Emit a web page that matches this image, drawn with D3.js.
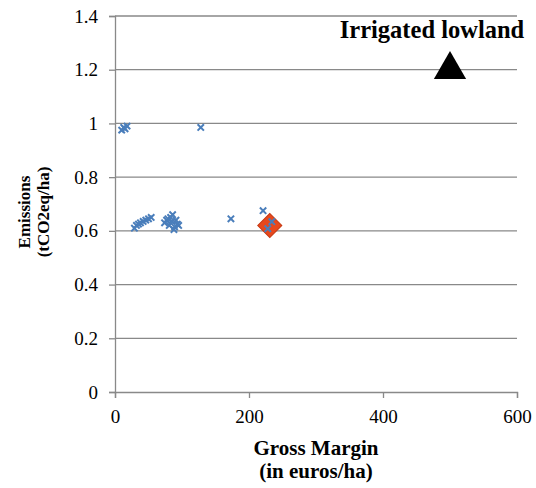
<!DOCTYPE html>
<html>
<head>
<meta charset="utf-8">
<script src="https://cdn.jsdelivr.net/npm/d3@7"></script>
<style>
  body { margin: 0; background: #fff; }
  svg { display: block; }
  .tick text { font-family: "Liberation Serif", "Times New Roman", serif; }
</style>
</head>
<body>
<div id="chart"></div>
<script>
// farm observations (gross margin, emissions)
const farmX = [10, 13, 15, 18, 128,
  29, 32, 35, 38, 42, 46, 50, 54,
  74, 77, 79, 81, 83, 85, 86, 88, 89, 91, 93, 95,
  173, 221, 228, 234];
const farmY = [0.975, 0.985, 0.98, 0.99, 0.985,
  0.61, 0.62, 0.625, 0.63, 0.635, 0.64, 0.645, 0.65,
  0.63, 0.64, 0.645, 0.62, 0.65, 0.635, 0.66, 0.605, 0.615, 0.64, 0.625, 0.62,
  0.645, 0.675, 0.608, 0.634];

const meanX = [231];
const meanY = [0.62];

const lowlandX = [500];
const lowlandY = [1.2];
const lowlandLabel = "Irrigated lowland";

const xTicks = [0, 200, 400, 600];
const yTicks = [0, 0.2, 0.4, 0.6, 0.8, 1, 1.2, 1.4];

const width = 536,
  height = 488,
  marginTop = 16,
  marginRight = 19,
  marginBottom = 96,
  marginLeft = 115,
  font = "'Liberation Serif', 'Times New Roman', serif",
  gridColor = "#898989",
  crossColor = "#4a7ebb";

const xScale = d3.scaleLinear([0, 600], [marginLeft, width - marginRight]);
const yScale = d3.scaleLinear([0, 1.4], [height - marginBottom, marginTop]);

const svg = d3
  .select("#chart")
  .append("svg")
  .attr("width", width)
  .attr("height", height)
  .attr("viewBox", [0, 0, width, height]);

// horizontal grid
svg
  .append("g")
  .selectAll("line")
  .data(yTicks.slice(1))
  .join("line")
  .attr("x1", xScale(0))
  .attr("x2", xScale(600))
  .attr("y1", (d) => yScale(d))
  .attr("y2", (d) => yScale(d))
  .attr("stroke", gridColor)
  .attr("stroke-width", 1.3);

// y axis
svg
  .append("g")
  .attr("transform", `translate(${xScale(0)},0)`)
  .call(d3.axisLeft(yScale).tickValues(yTicks).tickSize(6).tickPadding(11).tickFormat(d3.format("~g")))
  .attr("font-family", font)
  .call((g) => g.selectAll("line, path").attr("stroke", gridColor).attr("stroke-width", 1.3))
  .call((g) => g.selectAll(".tick text").attr("font-size", 19).attr("fill", "#000"));

// x axis
svg
  .append("g")
  .attr("transform", `translate(0,${yScale(0)})`)
  .call(d3.axisBottom(xScale).tickValues(xTicks).tickSize(6).tickPadding(12))
  .attr("font-family", font)
  .call((g) => g.selectAll("line, path").attr("stroke", gridColor).attr("stroke-width", 1.3))
  .call((g) => g.selectAll(".tick text").attr("font-size", 19).attr("fill", "#000"));

// axis titles
const xMid = (xScale(0) + xScale(600)) / 2;
const xTitle = svg
  .append("text")
  .attr("text-anchor", "middle")
  .attr("font-family", font)
  .attr("font-weight", "bold")
  .attr("font-size", 21);
xTitle.append("tspan").attr("x", xMid).attr("y", 455).text("Gross Margin");
xTitle.append("tspan").attr("x", xMid).attr("y", 478).text("(in euros/ha)");

const yTitle = svg
  .append("text")
  .attr("transform", `translate(0,212) rotate(-90)`)
  .attr("text-anchor", "middle")
  .attr("font-family", font)
  .attr("font-weight", "bold")
  .attr("font-size", 17);
yTitle.append("tspan").attr("x", 0).attr("y", 30).text("Emissions");
yTitle.append("tspan").attr("x", 0).attr("y", 49).text("(tCO2eq/ha)");

// mean diamond
svg
  .append("g")
  .selectAll("path")
  .data(d3.range(meanX.length))
  .join("path")
  .attr("transform", (i) => `translate(${xScale(meanX[i])},${yScale(meanY[i])}) rotate(45)`)
  .attr("d", d3.symbol(d3.symbolSquare, 290))
  .attr("fill", "#e8481c")
  .attr("stroke", "#c63a14")
  .attr("stroke-width", 1);

// farm crosses
const cross = d3.symbol(d3.symbolTimes, 28);
svg
  .append("g")
  .selectAll("path")
  .data(d3.range(farmX.length))
  .join("path")
  .attr("transform", (i) => `translate(${xScale(farmX[i])},${yScale(farmY[i])})`)
  .attr("d", cross)
  .attr("fill", "none")
  .attr("stroke", crossColor)
  .attr("stroke-width", 2);

// irrigated lowland
svg
  .append("g")
  .selectAll("path")
  .data(d3.range(lowlandX.length))
  .join("path")
  .attr("transform", (i) => `translate(${xScale(lowlandX[i])},${yScale(lowlandY[i])})`)
  .attr("d", d3.symbol(d3.symbolTriangle, 450))
  .attr("fill", "#000");

svg
  .append("text")
  .attr("x", 432)
  .attr("y", 38)
  .attr("text-anchor", "middle")
  .attr("font-family", font)
  .attr("font-weight", "bold")
  .attr("font-size", 24.5)
  .text(lowlandLabel);
</script>
</body>
</html>
